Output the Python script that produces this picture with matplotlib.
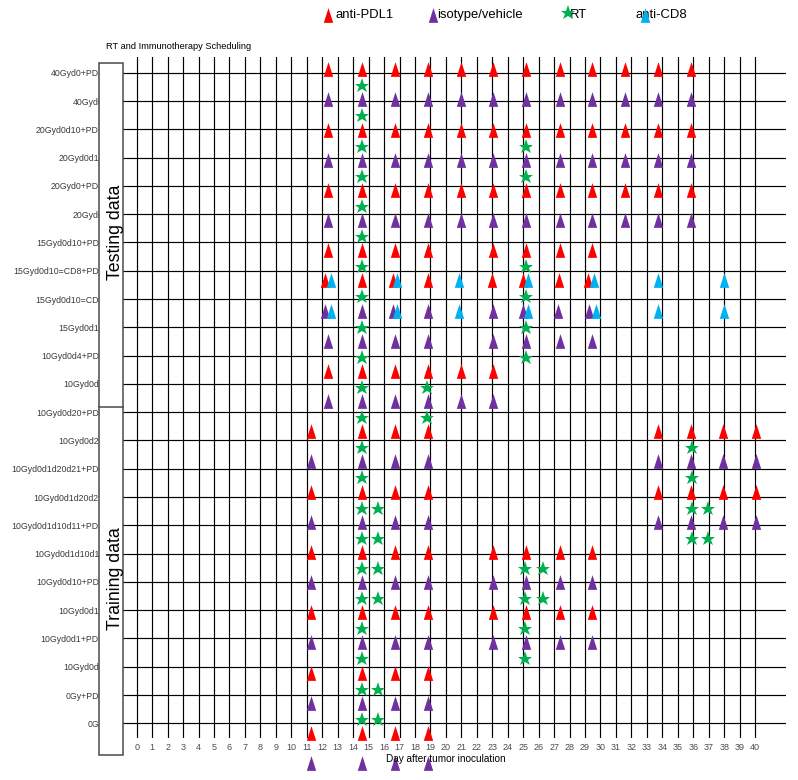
import numpy as np
import matplotlib.pyplot as plt
from matplotlib.patches import Rectangle

plt.rcParams['font.family'] = ['Liberation Sans', 'DejaVu Sans']

# Behandlási csoportok (felülről lefelé)
groups = ['40Gyd0+PD1', '40Gyd0', '20Gyd0d10+PD1', '20Gyd0d10', '20Gyd0+PD1', '20Gyd0',
          '15Gyd0d10+PD1', '15Gyd0d10=CD8+PD1', '15Gyd0d10=CD8', '15Gyd0d10',
          '10Gyd0d4+PD1', '10Gyd0d4', '10Gyd0d20+PD1', '10Gyd0d20',
          '10Gyd0d1d20d21+PD1', '10Gyd0d1d20d21', '10Gyd0d1d10d11+PD1', '10Gyd0d1d10d11',
          '10Gyd0d10+PD1', '10Gyd0d10', '10Gyd0d1+PD1', '10Gyd0d1', '0Gy+PD1', '0Gy']
days = np.arange(0, 41)

# anti-PDL1 (piros) vagy izotípus (lila) napok soronként
drug_type = ['pdl1', 'iso', 'pdl1', 'iso', 'pdl1', 'iso',
             'pdl1', 'pdl1', 'iso', 'iso', 'pdl1', 'iso',
             'pdl1', 'iso', 'pdl1', 'iso', 'pdl1', 'iso',
             'pdl1', 'iso', 'pdl1', 'iso', 'pdl1', 'iso']
drug_days = [
    [12.4, 14.55, 16.7, 18.85, 20.95, 23.05, 25.15, 27.35, 29.45, 31.6, 33.75, 35.85],
    [12.4, 14.55, 16.7, 18.85, 20.95, 23.05, 25.15, 27.35, 29.45, 31.6, 33.75, 35.85],
    [12.4, 14.55, 16.7, 18.85, 20.95, 23.05, 25.15, 27.35, 29.45, 31.6, 33.75, 35.85],
    [12.4, 14.55, 16.7, 18.85, 20.95, 23.05, 25.15, 27.35, 29.45, 31.6, 33.75, 35.85],
    [12.4, 14.55, 16.7, 18.85, 20.95, 23.05, 25.15, 27.35, 29.45, 31.6, 33.75, 35.85],
    [12.4, 14.55, 16.7, 18.85, 20.95, 23.05, 25.15, 27.35, 29.45, 31.6, 33.75, 35.85],
    [12.4, 14.55, 16.7, 18.85, 23.05, 25.15, 27.35, 29.45],
    [12.15, 14.55, 16.55, 18.85, 23.0, 25.0, 27.3, 29.22],
    [12.18, 14.55, 16.55, 18.85, 23.05, 24.97, 27.27, 29.28],
    [12.4, 14.55, 16.7, 18.85, 23.05, 25.15, 27.35, 29.45],
    [12.4, 14.55, 16.7, 18.85, 20.95, 23.05],
    [12.4, 14.55, 16.7, 18.85, 20.95, 23.05],
    [11.3, 14.55, 16.7, 18.85, 33.75, 35.85, 37.95, 40.05],
    [11.3, 14.55, 16.7, 18.85, 33.75, 35.85, 37.95, 40.05],
    [11.3, 14.55, 16.7, 18.85, 33.75, 35.85, 37.95, 40.05],
    [11.3, 14.55, 16.7, 18.85, 33.75, 35.85, 37.95, 40.05],
    [11.3, 14.55, 16.7, 18.85, 23.05, 25.15, 27.35, 29.45],
    [11.3, 14.55, 16.7, 18.85, 23.05, 25.15, 27.35, 29.45],
    [11.3, 14.55, 16.7, 18.85, 23.05, 25.15, 27.35, 29.45],
    [11.3, 14.55, 16.7, 18.85, 23.05, 25.15, 27.35, 29.45],
    [11.3, 14.55, 16.7, 18.85],
    [11.3, 14.55, 16.7, 18.85],
    [11.3, 14.55, 16.7, 18.85],
    [11.3, 14.55, 16.7, 18.85],
]

# anti-CD8 napok (kék)
cd8_rows = [7, 8]
cd8_days = [
    [12.55, 16.82, 20.87, 25.33, 29.6, 33.74, 37.97],
    [12.55, 16.82, 20.87, 25.33, 29.69, 33.74, 37.97],
]

# besugárzás (RT) napjai
rt_days = [
    [14.55], [14.55], [14.55, 25.2], [14.55, 25.2], [14.55], [14.55],
    [14.55, 25.2], [14.55, 25.2], [14.55, 25.2], [14.55, 25.2],
    [14.55, 18.8], [14.55, 18.8],
    [14.55, 35.9], [14.55, 35.9],
    [14.55, 15.6, 35.9, 36.95], [14.55, 15.6, 35.9, 36.95],
    [14.55, 15.6, 25.1, 26.25], [14.55, 15.6, 25.1, 26.25],
    [14.55, 25.1], [14.55, 25.1],
    [14.55, 15.6], [14.55, 15.6],
    [], [],
]

RED, PURPLE, GREEN, BLUE = '#FF0000', '#7030A0', '#00B050', '#00B0F0'
colors = {'pdl1': RED, 'iso': PURPLE}
tri = [(0, 1), (-0.64, -1), (0.64, -1)]
TRI_MS, STAR_MS = 10.6, 11.3
STAR_OFF = 0.565

fig = plt.figure(figsize=(7.98, 7.80), dpi=100)
W, H = 798, 780
L, R = 123 / W, 786 / W
B, T = (H - 738) / H, (H - 56.7) / H
XL = (-0.886, 42.0)

# rács
ax = fig.add_axes([L, B, R - L, T - B])
ax.set_xlim(*XL)
ax.set_ylim(23.52, -0.569)
for s in ax.spines.values():
    s.set_visible(False)
for d in days:
    ax.axvline(d, color='black', lw=0.85)
for i in range(len(groups)):
    ax.axhline(i, color='black', lw=0.85)
ax.set_xticks(days)
ax.set_xticklabels([str(d) for d in days])
ax.set_yticks(range(len(groups)))
ax.set_yticklabels(groups)
ax.tick_params(axis='x', length=0, pad=3.5, labelsize=6.5, labelcolor='#4d4d4d')
ax.tick_params(axis='y', length=0, pad=13.8, labelsize=6.3, labelcolor='#3a3a3a')

# jelölők (külön skálán)
mk = fig.add_axes([L, B, R - L, T - B], zorder=1)
mk.patch.set_visible(False)
mk.axis('off')
mk.set_xlim(*XL)
mk.set_ylim(22.17, -0.414)
for k in range(len(groups)):
    mk.plot(drug_days[k], [k] * len(drug_days[k]), ls='none', marker=tri, ms=TRI_MS,
            color=colors[drug_type[k]], mew=0, clip_on=False)
for r, dd in zip(cd8_rows, cd8_days):
    mk.plot(dd, [r] * len(dd), ls='none', marker=tri, ms=TRI_MS, color=BLUE, mew=0, clip_on=False)
for k in range(len(groups)):
    mk.plot(rt_days[k], [k + STAR_OFF] * len(rt_days[k]), ls='none', marker='*', ms=STAR_MS,
            color=GREEN, mew=0, clip_on=False)

# bal oldali doboz
fig.add_artist(Rectangle((98.5 / W, (H - 755) / H), 24.8 / W, (755 - 62.7) / H,
                         transform=fig.transFigure, facecolor='white', edgecolor='#4a4a4a',
                         lw=1.1, zorder=3))
fig.add_artist(plt.Line2D([98.5 / W, 123.3 / W], [(H - 406.7) / H] * 2,
                          transform=fig.transFigure, color='#4a4a4a', lw=1.1, zorder=4))
fig.text(115.5 / W, 1 - 232.5 / H, 'Testing data', rotation=90, ha='center', va='center',
         fontsize=12.8, zorder=5)
fig.text(115.5 / W, 1 - 578.3 / H, 'Training data', rotation=90, ha='center', va='center',
         fontsize=12.8, zorder=5)

fig.text(106 / W, 1 - 46.7 / H, 'RT and Immunotherapy Scheduling', ha='left', va='center', fontsize=6.7)
fig.text(445.5 / W, 1 - 759 / H, 'Day after tumor inoculation', ha='center', va='center', fontsize=7.2)

# jelmagyarázat
lg = fig.add_axes([0, 0, 1, 1], zorder=6)
lg.patch.set_visible(False)
lg.axis('off')
lg.set_xlim(0, W)
lg.set_ylim(H, 0)
leg_items = [('anti-PDL1', RED, tri, 328, 15, 335),
             ('isotype/vehicle', PURPLE, tri, 433, 14.5, 436.7),
             ('RT', GREEN, '*', 568, 12.5, 570),
             ('anti-CD8', BLUE, tri, 645, 14.5, 635)]
for label, c, m, mx, my, tx in leg_items:
    lg.text(tx, 15, label, ha='left', va='center', fontsize=9.4, zorder=3)
    lg.plot([mx], [my], marker=m, ms=TRI_MS if m is tri else STAR_MS, color=c, mew=0, zorder=4)

fig.savefig('out.png', dpi=100)
